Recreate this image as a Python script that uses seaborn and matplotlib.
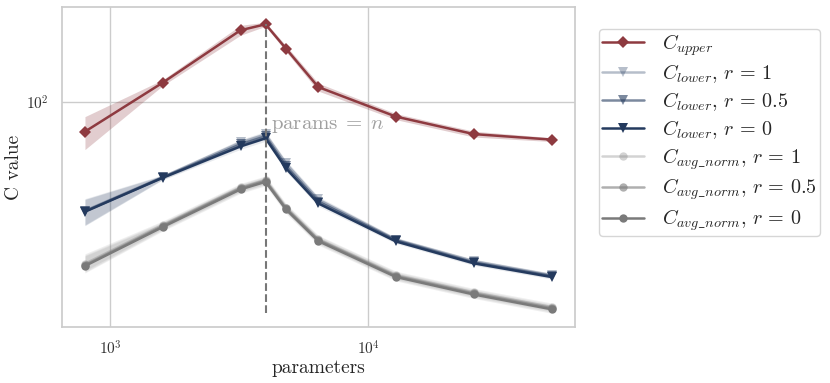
import numpy as np
import pandas as pd
import seaborn as sns
import matplotlib.pyplot as plt
from matplotlib.ticker import NullFormatter, NullLocator

# valeurs
params = [800, 1600, 3200, 4000, 4800, 6400, 12800, 25600, 51200]
n_value = 4000

c_upper = [84.5, 112.0, 151.4, 156.7, 136.2, 109.2, 92.1, 83.3, 80.7]
c_upper_lo = [76.2, 110.1, 147.1, 154.9, 133.9, 106.7, 90.5, 81.9, 79.8]
c_upper_hi = [92.1, 113.9, 155.8, 158.5, 138.6, 111.7, 93.7, 84.7, 81.6]

c_lower_r1 = [53.6, 65.1, 79.4, 83.2, 70.4, 57.2, 45.4, 40.1, 37.0]
c_lower_r05 = [53.4, 64.9, 78.5, 82.2, 69.2, 56.5, 45.2, 39.8, 36.8]
c_lower_r0 = [53.3, 64.8, 77.6, 81.3, 68.4, 55.9, 44.9, 39.6, 36.6]
# ecart relatif de la bande (haut / bas)
c_lower_band_hi = [1.072, 1.012, 1.017, 1.017, 1.017, 1.017, 1.012, 1.012, 1.012]
c_lower_band_lo = [1.084, 1.012, 1.017, 1.017, 1.017, 1.017, 1.012, 1.012, 1.012]

c_avg_r1 = [39.5, 49.4, 61.3, 64.0, 54.6, 45.5, 37.0, 33.5, 30.8]
c_avg_r05 = [39.2, 49.1, 61.0, 63.7, 54.3, 45.3, 36.8, 33.3, 30.6]
c_avg_r0 = [39.0, 48.8, 60.6, 63.3, 54.0, 45.0, 36.6, 33.1, 30.4]
c_avg_band_hi = [1.059, 1.023, 1.023, 1.023, 1.023, 1.023, 1.023, 1.023, 1.023]
c_avg_band_lo = [1.041, 1.023, 1.023, 1.023, 1.023, 1.023, 1.023, 1.023, 1.023]

r_values = ['1', '0.5', '0']
r_alphas = [0.33, 0.6, 1.0]

red = '#8e3a40'
blue = '#243a5e'
gray = '#7a7a7a'

sns.set_theme(style='whitegrid')
plt.rcParams['font.family'] = 'serif'
plt.rcParams['font.serif'] = ['cmr10']
plt.rcParams['mathtext.fontset'] = 'cm'
plt.rcParams['axes.formatter.use_mathtext'] = True

fig = plt.figure(figsize=(8.3, 3.83), dpi=100)
ax = fig.add_axes([0.0743, 0.147, 0.6185, 0.834])

# C_upper
sns.lineplot(x=params, y=c_upper, ax=ax, color=red, marker='D', markersize=6,
             markeredgewidth=0, linewidth=1.8, label=r'$C_{upper}$', errorbar=None)
ax.fill_between(params, c_upper_lo, c_upper_hi, color=red, alpha=0.25, linewidth=0)

# C_lower
for r, a, vals in zip(r_values, r_alphas, [c_lower_r1, c_lower_r05, c_lower_r0]):
    vals = np.array(vals)
    sns.lineplot(x=params, y=vals, ax=ax, color=blue, alpha=a, marker='v', markersize=7,
                 markeredgewidth=0, linewidth=1.8,
                 label=r'$C_{lower}$, $r\,=\,%s$' % r, errorbar=None)
    ax.fill_between(params, vals / np.array(c_lower_band_lo), vals * np.array(c_lower_band_hi),
                    color=blue, alpha=0.1, linewidth=0)

# C_avg_norm
for r, a, vals in zip(r_values, r_alphas, [c_avg_r1, c_avg_r05, c_avg_r0]):
    vals = np.array(vals)
    sns.lineplot(x=params, y=vals, ax=ax, color=gray, alpha=a, marker='o', markersize=6,
                 markeredgewidth=0, linewidth=1.8,
                 label=r'$C_{avg\_norm}$, $r\,=\,%s$' % r, errorbar=None)
    ax.fill_between(params, vals / np.array(c_avg_band_lo), vals * np.array(c_avg_band_hi),
                    color=gray, alpha=0.12, linewidth=0)

ax.set_xscale('log')
ax.set_yscale('log')
ax.set_xlim(650, 63100)
ax.set_ylim(27.5, 172.8)
ax.yaxis.set_minor_formatter(NullFormatter())
ax.yaxis.set_minor_locator(NullLocator())
ax.xaxis.set_minor_formatter(NullFormatter())
ax.xaxis.set_minor_locator(NullLocator())

# ligne verticale params = n
ax.vlines(n_value, 29.8, max(c_upper), colors='#777777', linestyles='--', linewidth=1.5)
ax.text(4200, 87, r'$\mathrm{params}\;=\;n$', color='#a0a0a0', fontsize=15, va='center')

ax.set_xlabel('parameters', fontsize=14, labelpad=1)
ax.set_ylabel('C value', fontsize=14, labelpad=2)
ax.tick_params(labelsize=11, colors='#333333')

leg = ax.legend(loc='upper left', bbox_to_anchor=(1.023, 0.97), fontsize=14.5,
                frameon=True, handlelength=2.1, labelspacing=0.25, borderpad=0.15,
                handletextpad=0.9, borderaxespad=0.6)
for lh in leg.get_lines():
    lh.set_markeredgewidth(0)

fig.savefig('out.png', dpi=100)
